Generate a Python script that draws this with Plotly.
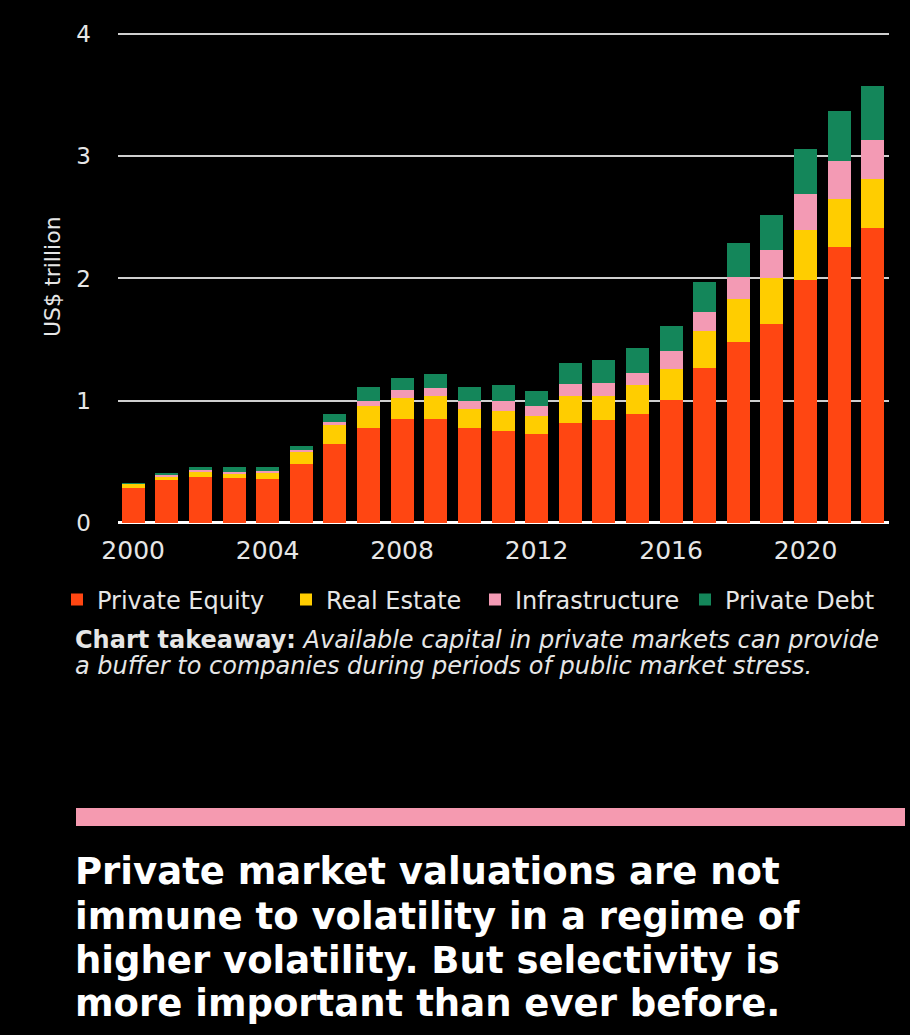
import plotly.graph_objects as go

years = list(range(2000, 2023))
private_equity = [0.29, 0.35, 0.38, 0.37, 0.36, 0.48, 0.65, 0.78, 0.85, 0.85, 0.78, 0.75,
                  0.73, 0.82, 0.84, 0.89, 1.01, 1.27, 1.48, 1.63, 1.99, 2.26, 2.41]
real_estate = [0.03, 0.035, 0.04, 0.035, 0.045, 0.105, 0.15, 0.18, 0.17, 0.19, 0.155, 0.17,
               0.145, 0.215, 0.20, 0.24, 0.25, 0.30, 0.35, 0.37, 0.41, 0.39, 0.40]
infrastructure = [0.0, 0.01, 0.01, 0.01, 0.02, 0.01, 0.03, 0.04, 0.07, 0.065, 0.06, 0.08,
                  0.08, 0.105, 0.105, 0.10, 0.15, 0.16, 0.18, 0.23, 0.29, 0.31, 0.325]
private_debt = [0.005, 0.015, 0.03, 0.04, 0.035, 0.035, 0.06, 0.11, 0.10, 0.11, 0.12, 0.125,
                0.125, 0.17, 0.19, 0.20, 0.20, 0.24, 0.28, 0.29, 0.37, 0.41, 0.44]

series_names = ["Private Equity", "Real Estate", "Infrastructure", "Private Debt"]
series_values = [private_equity, real_estate, infrastructure, private_debt]
series_colors = ["#FF4612", "#FFCD00", "#F39AB4", "#14865A"]

x_tick_vals = [2000, 2004, 2008, 2012, 2016, 2020]
y_tick_vals = [0, 1, 2, 3, 4]

takeaway_lines = [
    "<b>Chart takeaway:</b> <i>Available capital in private markets can provide</i>",
    "<i>a buffer to companies during periods of public market stress.</i>",
]
headline_lines = [
    "Private market valuations are not",
    "immune to volatility in a regime of",
    "higher volatility. But selectivity is",
    "more important than ever before.",
]

W, H = 910, 1035
FONT = "DejaVu Sans"
TXT = "#e6e6e6"


def fx(px):
    return px / W


def fy(py):
    return 1 - py / H


legend_ids = ["legend", "legend2", "legend3", "legend4"]
legend_left_px = [57, 286, 475, 685]

fig = go.Figure()
for name, vals, col, lid in zip(series_names, series_values, series_colors, legend_ids):
    fig.add_trace(go.Bar(x=years, y=vals, name=name, legend=lid,
                         marker=dict(color=col, line=dict(width=0))))

# y range slightly above 4 so the top gridline is drawn
y_top = 4.05
px_per_unit = (523 - 34) / 4.0
plot_top_px = 523 - y_top * px_per_unit

layout_legends = {}
for lid, lx in zip(legend_ids, legend_left_px):
    layout_legends[lid] = dict(
        orientation="h", x=fx(lx), xanchor="left", y=fy(600), yanchor="middle",
        font=dict(size=24, color=TXT, family=FONT), bgcolor="rgba(0,0,0,0)",
    )

fig.update_layout(
    width=W, height=H,
    barmode="stack", bargap=0.316,
    paper_bgcolor="black", plot_bgcolor="black",
    margin=dict(l=0, r=0, t=0, b=0, autoexpand=False),
    font=dict(family=FONT, color=TXT),
    xaxis=dict(
        domain=[fx(118), fx(889)], range=[1999.55, 2022.48],
        tickvals=x_tick_vals, ticktext=[str(v) for v in x_tick_vals],
        showgrid=False, zeroline=False, showline=False, ticks="",
        tickfont=dict(size=25, color=TXT), ticklabelstandoff=10,
        automargin=False, fixedrange=True,
    ),
    yaxis=dict(
        domain=[fy(523), fy(plot_top_px)], range=[0, y_top],
        tickvals=y_tick_vals, ticktext=[str(v) for v in y_tick_vals],
        showgrid=True, gridcolor="#cfcfcf", gridwidth=2,
        zeroline=True, zerolinecolor="white", zerolinewidth=3,
        showline=False, ticks="",
        tickfont=dict(size=23, color=TXT), ticklabelstandoff=26,
        automargin=False, fixedrange=True,
    ),
    showlegend=True,
    **layout_legends,
)

fig.add_annotation(
    text="US$ trillion", x=fx(52), y=fy(277), xref="paper", yref="paper",
    textangle=-90, showarrow=False, font=dict(size=22, color=TXT, family=FONT),
    xanchor="center", yanchor="middle",
)

for line, ypx in zip(takeaway_lines, [640, 666]):
    fig.add_annotation(
        text=line, x=fx(73), y=fy(ypx), xref="paper", yref="paper",
        xanchor="left", yanchor="middle", align="left", showarrow=False,
        font=dict(size=24, color=TXT, family=FONT),
    )

fig.add_shape(
    type="rect", xref="paper", yref="paper",
    x0=fx(76), x1=fx(905), y0=fy(826), y1=fy(808),
    fillcolor="#F59AB0", line=dict(width=0),
)

for line, ypx in zip(headline_lines, [871, 916, 960, 1003]):
    fig.add_annotation(
        text="<b>" + line + "</b>", x=fx(73), y=fy(ypx), xref="paper", yref="paper",
        xanchor="left", yanchor="middle", align="left", showarrow=False,
        font=dict(size=37, color="white", family=FONT),
    )

fig.write_html(
    "out.html",
    config={"displayModeBar": False},
    post_script="document.body.style.margin='0';document.body.style.background='black';",
)
